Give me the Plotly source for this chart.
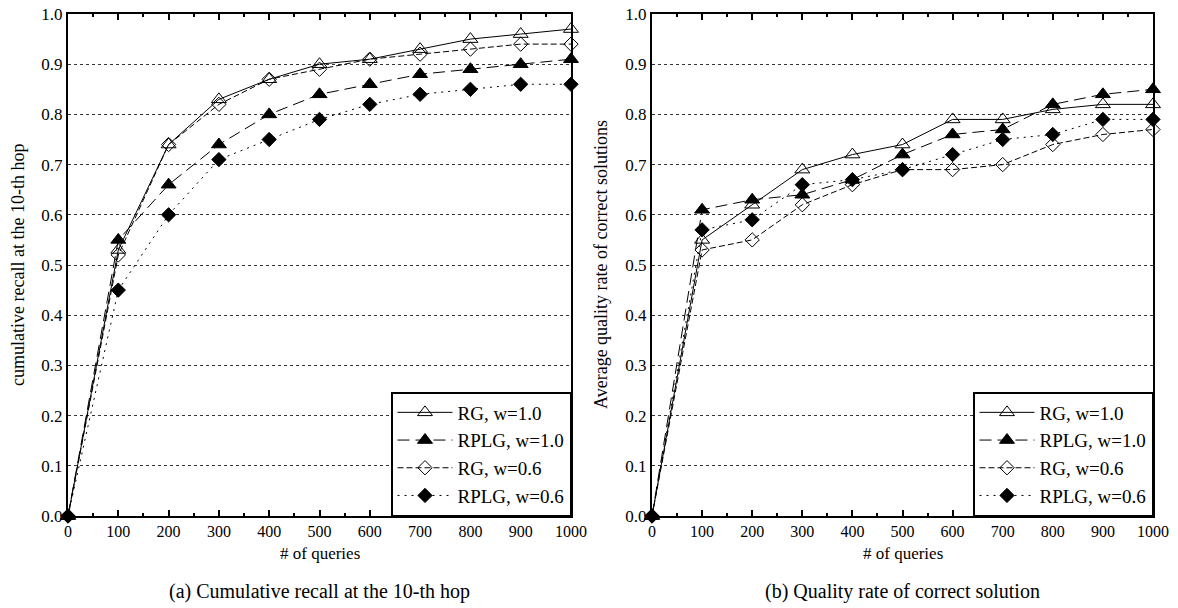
import plotly.graph_objects as go

queries = [0, 100, 200, 300, 400, 500, 600, 700, 800, 900, 1000]
series_names = ["RG, w=1.0", "RPLG, w=1.0", "RG, w=0.6", "RPLG, w=0.6"]

# (a) Cumulative recall at the 10-th hop
recall_rg_10 = [0.0, 0.53, 0.74, 0.83, 0.87, 0.90, 0.91, 0.93, 0.95, 0.96, 0.97]
recall_rplg_10 = [0.0, 0.55, 0.66, 0.74, 0.80, 0.84, 0.86, 0.88, 0.89, 0.90, 0.91]
recall_rg_06 = [0.0, 0.52, 0.74, 0.82, 0.87, 0.89, 0.91, 0.92, 0.93, 0.94, 0.94]
recall_rplg_06 = [0.0, 0.45, 0.60, 0.71, 0.75, 0.79, 0.82, 0.84, 0.85, 0.86, 0.86]

# (b) Quality rate of correct solution
quality_rg_10 = [0.0, 0.55, 0.62, 0.69, 0.72, 0.74, 0.79, 0.79, 0.81, 0.82, 0.82]
quality_rplg_10 = [0.0, 0.61, 0.63, 0.64, 0.67, 0.72, 0.76, 0.77, 0.82, 0.84, 0.85]
quality_rg_06 = [0.0, 0.53, 0.55, 0.62, 0.66, 0.69, 0.69, 0.70, 0.74, 0.76, 0.77]
quality_rplg_06 = [0.0, 0.57, 0.59, 0.66, 0.67, 0.69, 0.72, 0.75, 0.76, 0.79, 0.79]

x_ticks = list(range(0, 1001, 100))
y_ticks = [round(i * 0.1, 1) for i in range(11)]

FONT = "Liberation Serif"
styles = [
    dict(symbol="triangle-up-open", size=13, dash="solid"),
    dict(symbol="triangle-up", size=13, dash="12px,6px"),
    dict(symbol="diamond-open", size=11, dash="6px,3px"),
    dict(symbol="diamond", size=11, dash="2px,5px"),
]

fig = go.Figure()

panels = [
    ([recall_rg_10, recall_rplg_10, recall_rg_06, recall_rplg_06], "x", "y", "legend"),
    ([quality_rg_10, quality_rplg_10, quality_rg_06, quality_rplg_06], "x2", "y2", "legend2"),
]
for data, xa, ya, lg in panels:
    for name, vals, st in zip(series_names, data, styles):
        fig.add_trace(go.Scatter(
            x=queries, y=vals, name=name, mode="lines+markers",
            xaxis=xa, yaxis=ya, legend=lg, cliponaxis=False,
            line=dict(color="black", width=1, dash=st["dash"]),
            marker=dict(symbol=st["symbol"], size=st["size"], color="black",
                        line=dict(color="black", width=1)),
        ))

xdom = [[68 / 1178, 571 / 1178], [652 / 1178, 1153 / 1178]]
ydom = [(608 - 516) / 608, (608 - 14) / 608]

def xaxis_cfg(dom, anchor):
    return dict(
        domain=dom, anchor=anchor, range=[0, 1000], tickvals=x_ticks,
        ticktext=[str(v) for v in x_ticks], ticks="inside", ticklen=6,
        tickwidth=1.5, tickcolor="black",
        minor=dict(ticks="inside", dtick=50, ticklen=3, tickcolor="black"),
        showline=True, linecolor="black", linewidth=2, mirror="ticks",
        showgrid=False, zeroline=False, automargin=False,
        tickfont=dict(family=FONT, size=16, color="black"),
    )

def yaxis_cfg(anchor):
    return dict(
        domain=ydom, anchor=anchor, range=[0, 1.0], tickvals=y_ticks,
        ticktext=[f"{v:.1f}" for v in y_ticks], ticks="",
        showline=True, linecolor="black", linewidth=2, mirror=True,
        showgrid=True, gridcolor="#333333", gridwidth=1, griddash="dot",
        zeroline=False, automargin=False,
        tickfont=dict(family=FONT, size=17, color="black"),
    )

legend_common = dict(
    xanchor="right", yanchor="bottom", y=ydom[0],
    bgcolor="white", bordercolor="black", borderwidth=1.5,
    font=dict(family=FONT, size=19, color="black"),
    itemwidth=55, tracegroupgap=0,
)

fig.update_layout(
    width=1178, height=608,
    margin=dict(l=0, r=0, t=0, b=0),
    paper_bgcolor="white", plot_bgcolor="white",
    font=dict(family=FONT, color="black"),
    xaxis=xaxis_cfg(xdom[0], "y"),
    yaxis=yaxis_cfg("x"),
    xaxis2=xaxis_cfg(xdom[1], "y2"),
    yaxis2=yaxis_cfg("x2"),
    legend=dict(x=xdom[0][1], **legend_common),
    legend2=dict(x=xdom[1][1], **legend_common),
    showlegend=True,
)

annots = [
    dict(text="# of queries", x=sum(xdom[0]) / 2, y=1 - 553 / 608, size=17, angle=0),
    dict(text="# of queries", x=sum(xdom[1]) / 2, y=1 - 553 / 608, size=17, angle=0),
    dict(text="(a) Cumulative recall at the 10-th hop", x=sum(xdom[0]) / 2, y=1 - 591 / 608, size=20, angle=0),
    dict(text="(b) Quality rate of correct solution", x=sum(xdom[1]) / 2, y=1 - 591 / 608, size=20, angle=0),
    dict(text="cumulative recall at the 10-th hop", x=18 / 1178, y=1 - 265 / 608, size=18, angle=-90),
    dict(text="Average quality rate of correct solutions", x=601 / 1178, y=1 - 265 / 608, size=18, angle=-90),
]
for a in annots:
    fig.add_annotation(
        text=a["text"], x=a["x"], y=a["y"], xref="paper", yref="paper",
        xanchor="center", yanchor="middle", showarrow=False, textangle=a["angle"],
        font=dict(family=FONT, size=a["size"], color="black"),
    )

fig.write_html("out.html")
